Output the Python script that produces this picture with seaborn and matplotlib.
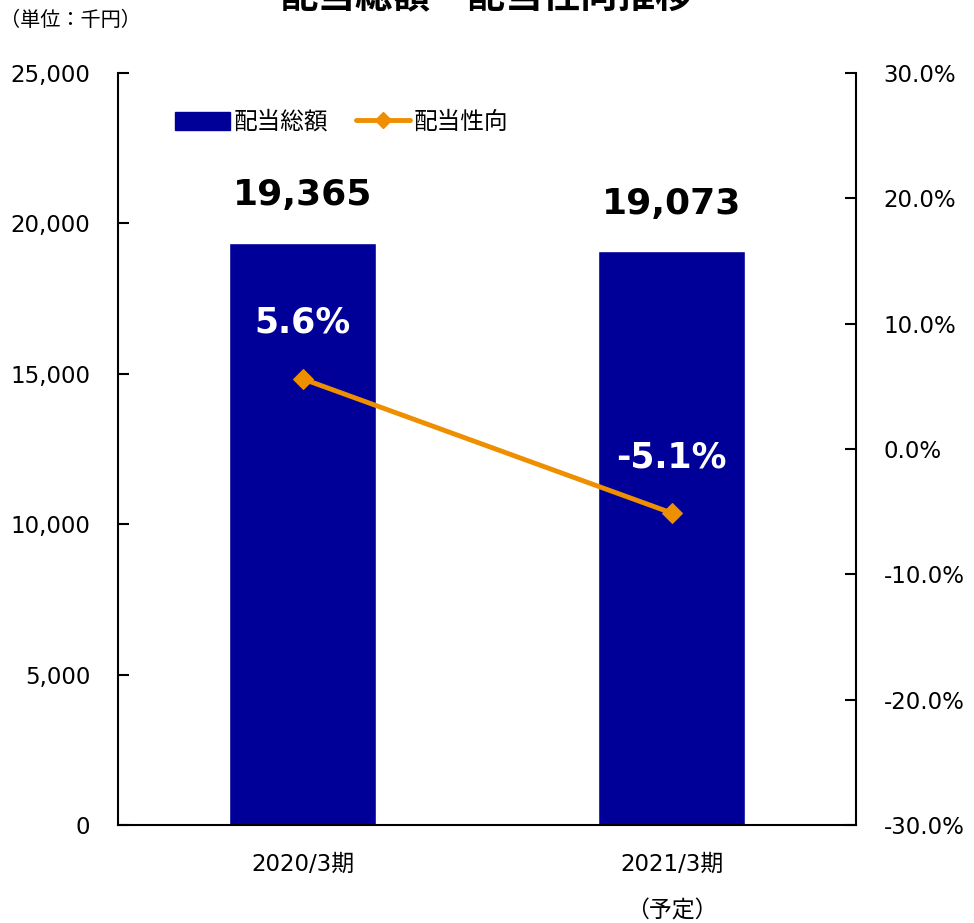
import numpy as np
import pandas as pd
import matplotlib
matplotlib.use("Agg")
import matplotlib.pyplot as plt
import seaborn as sns
from matplotlib.lines import Line2D
from matplotlib.patches import Patch

# data
periods = ["2020/3期", "2021/3期\n\n（予定）"]
total_dividend = [19365, 19073]      # 千円
payout_ratio = [5.6, -5.1]           # %

bar_color = "#000099"
line_color = "#EE8F00"

sns.set_theme(style="white")
plt.rcParams['font.family'] = ['DejaVu Sans', 'Noto Sans CJK JP']
plt.rcParams['text.color'] = 'black'
plt.rcParams['xtick.color'] = 'black'
plt.rcParams['ytick.color'] = 'black'
cjk = ['Noto Sans CJK JP', 'DejaVu Sans']

df = pd.DataFrame({"period": periods, "total": total_dividend, "ratio": payout_ratio})

fig = plt.figure(figsize=(9.74, 9.23), dpi=100)
ax = fig.add_axes([118/974, 1 - 825/923, 738/974, 752/923])

sns.barplot(data=df, x="period", y="total", color=bar_color, width=0.4,
            saturation=1, ax=ax, zorder=2)
ax.set_xlim(-0.5, 1.5)
ax.set_ylim(0, 25000)
ax.set_yticks(np.arange(0, 25001, 5000))
ax.set_yticklabels([f"{v:,}" for v in range(0, 25001, 5000)], fontsize=16.5)
ax.set_xticks([0, 1])
ax.set_xticklabels(periods, fontsize=16.5, linespacing=1.02)
ax.set_xticks([-0.5, 0.5, 1.5], minor=True)
ax.tick_params(axis='x', which='major', length=0, pad=20)
ax.tick_params(axis='x', which='minor', length=8, width=1.5, color='black', direction='out')
ax.tick_params(axis='y', length=8, width=1.5, color='black', direction='in', pad=20)
ax.set_xlabel("")
ax.set_ylabel("")
for s in ["left", "bottom"]:
    ax.spines[s].set_color("black")
    ax.spines[s].set_linewidth(1.5)
ax.spines["top"].set_visible(False)
ax.spines["right"].set_visible(False)

for i, v in enumerate(total_dividend):
    ax.text(i, v + 1000, f"{v:,}", ha='center', va='bottom', fontsize=26,
            fontweight='bold', color='black')

ax2 = ax.twinx()
sns.lineplot(x=[0, 1], y=payout_ratio, ax=ax2, color=line_color, linewidth=3.5,
             marker='D', markersize=10, markeredgecolor=line_color, zorder=3)
ax2.set_ylim(-30, 30)
ax2.set_yticks(np.arange(-30, 31, 10))
ax2.set_yticklabels([f"{v:.1f}%" for v in range(-30, 31, 10)], fontsize=16.5)
ax2.tick_params(axis='y', length=8, width=1.5, color='black', direction='in', pad=20)
ax2.set_ylabel("")
for s in ["left", "top", "bottom"]:
    ax2.spines[s].set_visible(False)
ax2.spines["right"].set_color("black")
ax2.spines["right"].set_linewidth(1.5)

for i, v in enumerate(payout_ratio):
    ax2.text(i, v + 3.1, f"{v}%", ha='center', va='bottom', fontsize=25,
             fontweight='bold', color='white')

handles = [Patch(facecolor=bar_color, edgecolor=bar_color),
           Line2D([0], [0], color=line_color, linewidth=3.5, marker='D', markersize=8)]
ax2.legend(handles, ["配当総額", "配当性向"], loc='upper left', bbox_to_anchor=(0.065, 0.962),
           ncol=2, frameon=False, handlelength=2.3, handleheight=0.8, handletextpad=0.15,
           columnspacing=1.2, borderaxespad=0, prop={'family': cjk, 'size': 17})

fig.text(0.0, 1 - 20/923, "（単位：千円）", ha='left', va='center', fontsize=14.5,
         family=cjk)
fig.text(0.5, 1 + 4/923, "配当総額・配当性向推移", ha='center', va='center', fontsize=27,
         fontweight='bold', family=cjk)

fig.savefig("out.png", dpi=100)
